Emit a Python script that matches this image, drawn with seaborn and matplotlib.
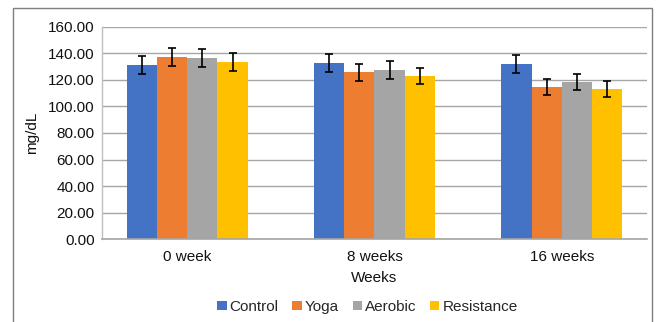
import numpy as np
import pandas as pd
import matplotlib
matplotlib.use("Agg")
import matplotlib.pyplot as plt
from matplotlib.patches import Rectangle
import seaborn as sns

# values
weeks = ["0 week", "8 weeks", "16 weeks"]
groups = ["Control", "Yoga", "Aerobic", "Resistance"]
control_mean = [131.2, 132.6, 131.9]
yoga_mean = [137.2, 125.9, 114.6]
aerobic_mean = [136.4, 127.4, 118.3]
resistance_mean = [133.4, 122.9, 113.1]
control_err = [6.7, 6.6, 6.6]
yoga_err = [6.9, 6.4, 5.8]
aerobic_err = [6.9, 6.5, 6.0]
resistance_err = [6.8, 6.3, 5.8]
yticks = [0, 20, 40, 60, 80, 100, 120, 140, 160]

colors = ["#4472C4", "#ED7D31", "#A5A5A5", "#FFC000"]

means = [control_mean, yoga_mean, aerobic_mean, resistance_mean]
errs = [control_err, yoga_err, aerobic_err, resistance_err]

rows = []
for g, m, e in zip(groups, means, errs):
    for w, v, s in zip(weeks, m, e):
        rows.append({"week": w, "group": g, "value": v, "sd": s})
df = pd.DataFrame(rows)

sns.set_style("white")
plt.rcParams["font.family"] = ["Liberation Sans", "DejaVu Sans"]
fs = 11

fig = plt.figure(figsize=(6.59, 3.22), dpi=100)
ax = fig.add_axes([101.7 / 659, 1 - 239.3 / 322, (647.3 - 101.7) / 659, (239.3 - 26.7) / 322])

sns.barplot(data=df, x="week", y="value", hue="group", order=weeks, hue_order=groups,
            palette=colors, width=0.647, gap=0, errorbar=None, saturation=1,
            linewidth=0, edgecolor="none", ax=ax)

# error bars on each bar
for cont, g in zip(ax.containers, groups):
    sub = df[df.group == g].set_index("week").loc[weeks]
    for bar, s in zip(cont, sub.sd):
        ax.errorbar(bar.get_x() + bar.get_width() / 2, bar.get_height(), yerr=s,
                    fmt="none", ecolor="black", elinewidth=1.2, capsize=3, capthick=1.2, zorder=5)

ax.set_ylim(0, 160)
ax.set_yticks(yticks)
ax.set_yticklabels([f"{t:.2f}" for t in yticks])
ax.yaxis.grid(True, color="#A6A6A6", lw=1)
ax.set_axisbelow(True)
ax.tick_params(axis="y", length=0, pad=5, labelsize=fs, labelcolor="#111111")
ax.tick_params(axis="x", length=0, pad=8, labelsize=fs, labelcolor="#111111")

for side in ["top", "right"]:
    ax.spines[side].set_visible(False)
ax.spines["left"].set_color("#BFBFBF")
ax.spines["bottom"].set_color("#A6A6A6")
ax.spines["left"].set_linewidth(1)
ax.spines["bottom"].set_linewidth(1.2)

ax.set_xlabel("Weeks", fontsize=fs, color="#111111")
ax.xaxis.set_label_coords(0.5, -0.15)
ax.set_ylabel("mg/dL", fontsize=fs, color="#111111")
ax.yaxis.set_label_coords(-0.115, 0.5)

handles, labels = ax.get_legend_handles_labels()
ax.legend(handles, labels, loc="center", bbox_to_anchor=(367.5 / 659, 1 - 307 / 322),
          bbox_transform=fig.transFigure, ncol=4, frameon=False, fontsize=fs,
          handlelength=0.6, handleheight=0.6, handletextpad=0.2, columnspacing=0.9)

# outer chart border
fig.patches.append(Rectangle((13 / 659, -0.05), (652 - 13) / 659, 1 - 8 / 322 + 0.05,
                             transform=fig.transFigure, fill=False, edgecolor="#7F7F7F", lw=1))

fig.savefig("out.png", dpi=100)
